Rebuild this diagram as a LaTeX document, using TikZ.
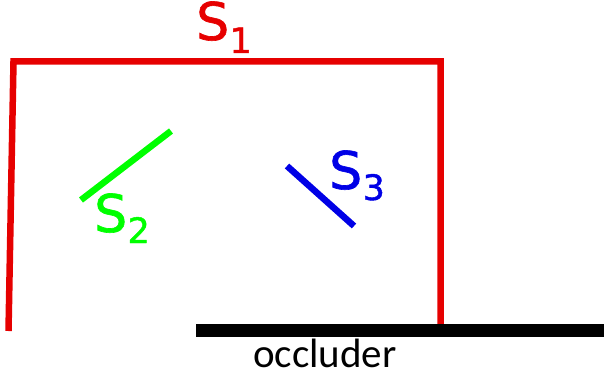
\documentclass[tikz,border=0pt]{standalone}
\usepackage{fontspec}
\setmainfont{DejaVu Sans}
\newfontfamily\labfont{DejaVu Sans}[FakeBold=1.2]
\newfontfamily\occfont{Carlito}
\definecolor{sred}{RGB}{230,0,0}
\definecolor{sgreen}{RGB}{0,255,0}
\definecolor{sblue}{RGB}{0,0,230}
\begin{document}
\begin{tikzpicture}[x=1pt,y=-1pt,
  surf/.style={line width=6.5pt},
  lab/.style={anchor=base west,inner sep=0pt,font=\labfont\fontsize{52}{52}\selectfont},
  sub/.style={anchor=base west,inner sep=0pt,font=\labfont\fontsize{35}{35}\selectfont}]
\useasboundingbox (0,0) rectangle (604,374);
% S1 outline
\coordinate (a) at (8.5,331);
\coordinate (b) at (13.5,61.5);
\coordinate (c) at (440.5,61.5);
\coordinate (d) at (440.5,324);
\draw[sred,surf,line join=miter] (a) -- (b) -- (c) -- (d);
% occluder
\coordinate (o1) at (196,330.5);
\coordinate (o2) at (604,330.5);
\draw[black,line width=13pt] (o1) -- (o2);
\node[anchor=base,inner sep=0pt,font=\occfont\fontsize{41}{41}\selectfont] (occ) at (325,367) {occluder};
% S2
\coordinate (g1) at (81,200);
\coordinate (g2) at (171,131);
\draw[sgreen,surf] (g1) -- (g2);
% S3
\coordinate (b1) at (287,166);
\coordinate (b2) at (354,226);
\draw[sblue,surf] (b1) -- (b2);
% labels
\node[lab,text=sred] (s1) at (196,40) {S};
\node[sub,text=sred] (s1i) at (s1.base east) [yshift=-13pt] {1};
\node[lab,text=sgreen] (s2) at (94,232) {S};
\node[sub,text=sgreen] (s2i) at (s2.base east) [yshift=-11pt] {2};
\node[lab,text=sblue] (s3) at (329,189) {S};
\node[sub,text=sblue] (s3i) at (s3.base east) [yshift=-11pt] {3};
\end{tikzpicture}
\end{document}
